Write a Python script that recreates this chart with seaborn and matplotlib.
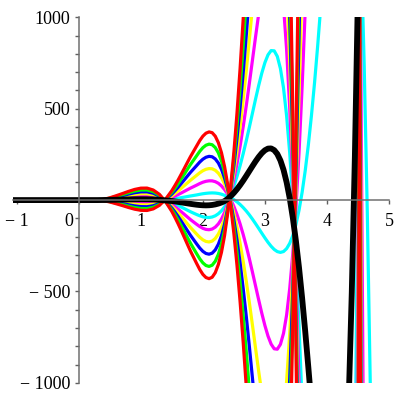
import matplotlib
matplotlib.use("Agg")
import matplotlib.pyplot as plt
import matplotlib.transforms as mtransforms
import seaborn as sns

x_vals = [-1.1, -0.5, 0.0, 0.3, 0.4, 0.5, 0.6, 0.7, 0.8, 0.9, 1.0, 1.1, 1.2, 1.3, 1.4,
          1.5, 1.55, 1.6, 1.65, 1.7, 1.75, 1.8, 1.85, 1.9, 1.95,
          2.0, 2.05, 2.1, 2.15, 2.2, 2.25, 2.3, 2.35, 2.4, 2.45,
          2.5, 2.55, 2.6, 2.65, 2.7, 2.75, 2.8, 2.85, 2.9, 2.95,
          3.0, 3.05, 3.1, 3.15, 3.2, 3.25, 3.3, 3.35, 3.4, 3.45,
          3.5, 3.55, 3.6, 3.65, 3.7, 3.75, 3.8, 3.85, 3.9, 3.95,
          4.0, 4.05, 4.1, 4.15, 4.2, 4.25, 4.3, 4.35, 4.4, 4.45,
          4.5, 4.55, 4.6, 4.65, 4.7, 4.75, 4.8, 4.9, 5.0]

# thick black curve
black_curve = [0, 0, 0, 0, 0.4, 1.0, 1.8, 2.7, 3.5, 4.2, 4.6, 4.4, 3.4, 1.3, -2.0,
               -5.2, -7.4, -9.8, -12.4, -15.1, -17.9, -20.6, -23.1, -25.4, -27.2,
               -28.4, -28.9, -28.4, -26.7, -23.7, -19.2, -13.3, -5.5, 6.6, 21.8,
               39.5, 59.7, 82.1, 106.5, 132.5, 159.3, 186.1, 212.1, 236.1, 256.7,
               272.5, 281.7, 282.6, 273.1, 252.0, 216.7, 165.8, 97.2, 9.9, -97.0,
               -223.9, -370.5, -536.5, -719.0, -915.0, -1119.5, -1332.3, -1542.6, -1742.1, -1920.1,
               -2066.9, -2169.9, -2217.5, -2196.4, -2090.9, -1886.0, -1555.8, -1100.9, -506.6, 238.5,
               1139.6, 2198.8, 3411.5, 4767.5, 6248, 7829, 9471, 12742, 15565]

# gap between one coloured curve and the next (one step of the parameter)
spread = [0, 0, 0, 0, 0.6, 1.9, 3.6, 5.4, 7.3, 9.0, 10.1, 10.2, 8.6, 5.0, -1.2,
          -9.5, -14.5, -19.8, -25.5, -31.3, -37.2, -43.0, -48.3, -53.6, -58.8,
          -63.0, -65.8, -66.9, -65.9, -62.2, -55.5, -45.4, -31.4, -13.1, 9.7,
          37.1, 69.3, 106.2, 147.4, 192.4, 240.5, 290.7, 341.5, 391.2, 438.0,
          479.4, 512.8, 535.2, 543.3, 533.9, 502.9, 447.4, 362.7, 246.7, 97.0,
          -90.0, -315.2, -579.6, -880.5, -1216.4, -1581.6, -1974.2, -2384.4, -2802.2, -3198.3,
          -3577.2, -3909.5, -4180.5, -4361.8, -4414.9, -4324.9, -4063.3, -3600.3, -2902.6, -1948.8,
          -710.8, 824.3, 2671.0, 4830.2, 7291.9, 10042, 13035, 19540, 26157]

steps = [1, 2, 3, 4, 5, 6]
step_colors = ["#00ffff", "#ff00ff", "#ffff00", "#0000ff", "#00ff00", "#ff0000"]

x_ticks = [-1, 0, 1, 2, 3, 4, 5]
x_labels = ["\u2212 1", "0", "1", "2", "3", "4", "5"]
y_ticks = [-1000, -500, 500, 1000]
y_labels = ["\u2212 1000", "\u2212 500", "500", "1000"]

sns.set_style("white")
plt.rcParams['font.family'] = ['Liberation Serif', 'DejaVu Serif']

fig = plt.figure(figsize=(4, 4), dpi=100)
ax = fig.add_axes([0.0325, 0.0428, 0.94, 0.914])

for k, color in zip(steps, step_colors):
    for sign in (1, -1):
        ys = [b + sign * k * s for b, s in zip(black_curve, spread)]
        sns.lineplot(x=x_vals, y=ys, color=color, linewidth=2.3,
                     sort=False, estimator=None, ax=ax)
sns.lineplot(x=x_vals, y=black_curve, color="black", linewidth=4.2,
             sort=False, estimator=None, ax=ax)

ax.set_xlim(-1.06, 5.0)
ax.set_ylim(-1000, 1000)

ax.spines['left'].set_position(('data', 0))
ax.spines['bottom'].set_position(('data', 0))
for side in ['top', 'right']:
    ax.spines[side].set_visible(False)
for side in ['left', 'bottom']:
    ax.spines[side].set_color('#707070')
    ax.spines[side].set_linewidth(1.1)

ax.set_xticks(x_ticks)
ax.set_xticklabels(x_labels)
ax.set_yticks(y_ticks)
ax.set_yticklabels(y_labels)
ax.set_yticks([v for v in range(-900, 1000, 100) if v not in (-500, 0, 500)], minor=True)
ax.tick_params(axis='both', which='both', direction='out', length=3, width=1,
               color='#606060', labelsize=13, labelcolor='black',
               bottom=True, left=True)
ax.tick_params(axis='x', pad=6)
ax.tick_params(axis='y', pad=3)

# Maple puts the 0 label a little left of the vertical axis
zero_label = ax.get_xticklabels()[1]
zero_label.set_transform(zero_label.get_transform() +
                         mtransforms.ScaledTranslation(-0.10, 0, fig.dpi_scale_trans))

fig.savefig("out.png", dpi=100)
